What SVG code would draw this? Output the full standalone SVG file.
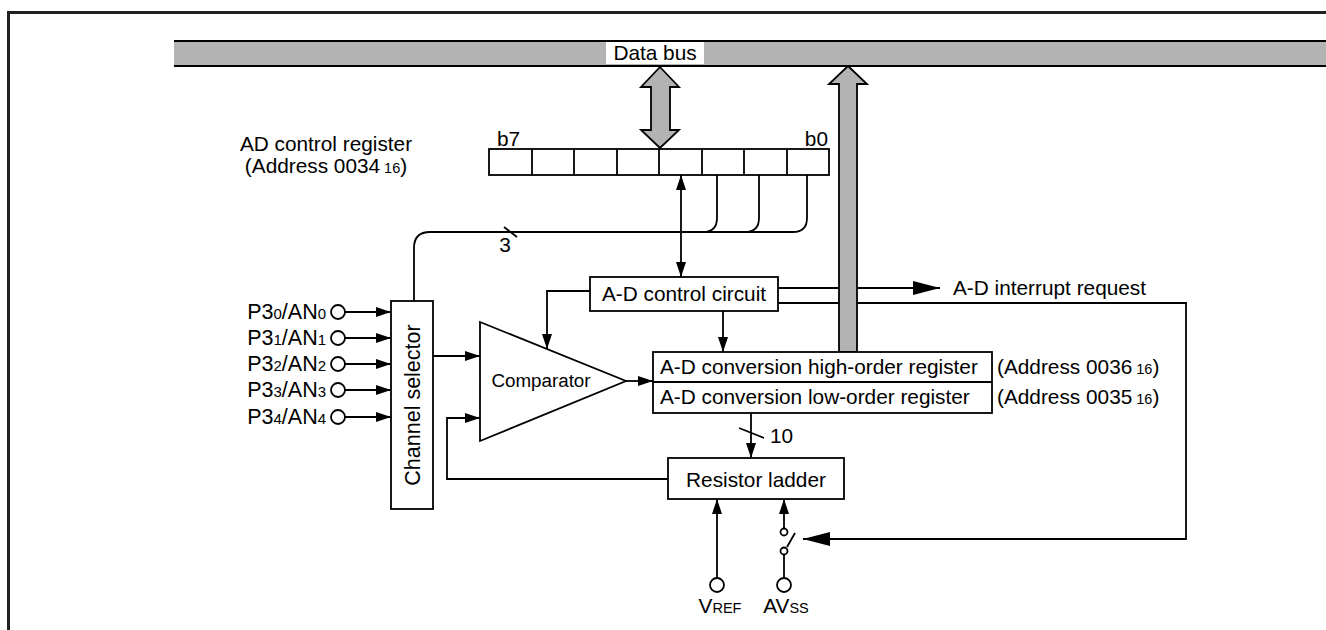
<svg xmlns="http://www.w3.org/2000/svg" width="1326" height="630" viewBox="0 0 1326 630">
<style>
text{font-family:"Liberation Sans",Arial,sans-serif;font-size:20.8px;fill:#000}
.ln{fill:none;stroke:#000;stroke-width:1.8}
.box{fill:#fff;stroke:#000;stroke-width:1.8}
.bus{fill:#b3b3b3;stroke:#000;stroke-width:1.8}
.pin{fill:#fff;stroke:#000;stroke-width:1.8}
.s{font-size:14.5px}
.m{text-anchor:middle}
.e{text-anchor:end}
.p{font-size:21.5px}
.p .s{font-size:15px}
</style>
<defs>
<marker id="ah" markerUnits="userSpaceOnUse" markerWidth="16" markerHeight="12" refX="15" refY="5" orient="auto-start-reverse">
<path d="M0,0 L15,5 L0,10 Z" fill="#000"/>
</marker>
<marker id="ahb" markerUnits="userSpaceOnUse" markerWidth="28" markerHeight="16" refX="27" refY="7" orient="auto">
<path d="M0,0 L27,7 L0,14 Z" fill="#000"/>
</marker>
</defs>
<rect width="1326" height="630" fill="#fff"/>
<path d="M8.5,630 V12.5 H1326" fill="none" stroke="#222" stroke-width="3"/>

<g id="databus">
<rect x="174" y="41" width="1160" height="25" fill="#b3b3b3"/>
<path d="M174,41 H1326 M174,66 H1326" class="ln"/>
<rect x="606" y="42" width="98" height="22" fill="#fff"/>
<text x="655" y="60" class="m">Data bus</text>
</g>

<g id="connectors">
<path d="M414,301 V248 Q414,232 430,232 H793 Q807,232 807,218 V175" class="ln"/>
<path d="M717,175 V218 Q717,232 703,232" class="ln"/>
<path d="M759,175 V218 Q759,232 745,232" class="ln"/>
<path d="M504,227 L517,237" class="ln" stroke-width="2.2"/>
<text x="505" y="252" class="m">3</text>
<path d="M681,175 V277" class="ln" marker-start="url(#ah)" marker-end="url(#ah)"/>
<path d="M590,291 H547 V349" class="ln" marker-end="url(#ah)"/>
<path d="M723,311 V352" class="ln" marker-end="url(#ah)"/>
<path d="M778,288 H940" class="ln" marker-end="url(#ahb)"/>
<path d="M778,303 H1186 V539 H803" class="ln" marker-end="url(#ahb)"/>
<path d="M433,356 H480" class="ln" marker-end="url(#ah)"/>
<path d="M668,479 H447 V418 H480" class="ln" marker-end="url(#ah)"/>
<path d="M626,381 H653" class="ln" marker-end="url(#ah)"/>
<path d="M751,413 V458" class="ln" marker-end="url(#ah)"/>
<path d="M739,428 L764,438" class="ln" stroke-width="2.2"/>
<text x="770" y="443">10</text>
<path d="M345,312 H391" class="ln" marker-end="url(#ah)"/>
<path d="M345,338 H391" class="ln" marker-end="url(#ah)"/>
<path d="M345,364 H391" class="ln" marker-end="url(#ah)"/>
<path d="M345,390 H391" class="ln" marker-end="url(#ah)"/>
<path d="M345,417 H391" class="ln" marker-end="url(#ah)"/>
<path d="M717,578 V499" class="ln" marker-end="url(#ah)"/>
<path d="M784,528.5 V499" class="ln" marker-end="url(#ah)"/>
<path d="M784,554.5 V578" class="ln"/>
<path d="M787,547 L795,533" class="ln"/>
</g>

<g id="data-arrow">
<polygon points="660,67 679,87 670,87 670,130 679,130 660,148 641,130 651,130 651,87 641,87" class="bus"/>
</g>

<g id="ad-control-register">
<rect x="489" y="149" width="340" height="26" class="box"/>
<path d="M532,149 V175 M574,149 V175 M617,149 V175 M659,149 V175 M702,149 V175 M744,149 V175 M787,149 V175" class="ln"/>
<text x="497" y="146">b7</text>
<text x="828" y="146" class="e">b0</text>
<text x="326" y="151" class="m">AD control register</text>
<text x="326" y="173" class="m">(Address 0034<tspan class="s" dx="4">16</tspan>)</text>
</g>

<g id="ad-control-circuit">
<rect x="590" y="277" width="188" height="34" class="box"/>
<text x="684" y="301" class="m">A-D control circuit</text>
</g>

<g id="result-bus">
<polygon points="848,66 867,84 857,84 857,352 839,352 839,84 829,84" class="bus"/>
</g>
<text x="953" y="295">A-D interrupt request</text>

<g id="channel-selector">
<rect x="391" y="301" width="42" height="208" class="box"/>
<text transform="translate(420,405) rotate(-90)" class="m" style="font-size:21.5px">Channel selector</text>
</g>

<g id="comparator">
<polygon points="480,322 626,381 480,441" class="box"/>
<text x="541" y="387" class="m" style="font-size:18.8px">Comparator</text>
</g>

<g id="conversion-registers">
<rect x="653" y="352" width="339" height="61" class="box"/>
<path d="M653,382 H992" class="ln"/>
<text x="660" y="374">A-D conversion high-order register</text>
<text x="660" y="404">A-D conversion low-order register</text>
<text x="997" y="374">(Address 0036<tspan class="s" dx="4">16</tspan>)</text>
<text x="997" y="404">(Address 0035<tspan class="s" dx="4">16</tspan>)</text>
</g>

<g id="resistor-ladder">
<rect x="668" y="458" width="176" height="41" class="box"/>
<text x="756" y="487" class="m">Resistor ladder</text>
</g>

<g id="pins">
<circle cx="338" cy="312" r="7" class="pin"/>
<circle cx="338" cy="338" r="7" class="pin"/>
<circle cx="338" cy="364" r="7" class="pin"/>
<circle cx="338" cy="390" r="7" class="pin"/>
<circle cx="338" cy="417" r="7" class="pin"/>
<text x="326" y="319" class="e p">P3<tspan class="s">0</tspan>/AN<tspan class="s">0</tspan></text>
<text x="326" y="345" class="e p">P3<tspan class="s">1</tspan>/AN<tspan class="s">1</tspan></text>
<text x="326" y="371" class="e p">P3<tspan class="s">2</tspan>/AN<tspan class="s">2</tspan></text>
<text x="326" y="397" class="e p">P3<tspan class="s">3</tspan>/AN<tspan class="s">3</tspan></text>
<text x="326" y="424" class="e p">P3<tspan class="s">4</tspan>/AN<tspan class="s">4</tspan></text>
</g>

<g id="vref">
<circle cx="717" cy="585" r="7" class="pin"/>
<text x="720" y="613" class="m">V<tspan class="s">REF</tspan></text>
</g>
<g id="avss">
<circle cx="784" cy="532" r="3.5" class="pin"/>
<circle cx="784" cy="551" r="3.5" class="pin"/>
<circle cx="784" cy="585" r="7" class="pin"/>
<text x="786" y="613" class="m">AV<tspan class="s">SS</tspan></text>
</g>
</svg>
